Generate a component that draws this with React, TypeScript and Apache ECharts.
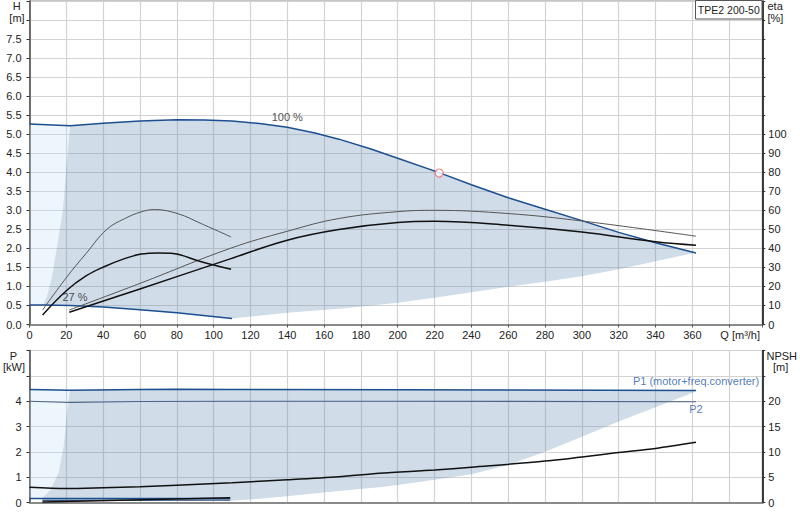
import { useEffect, useRef } from "react";
import * as echarts from "echarts";

type Pt = [number, number];

const FONT = "'Liberation Sans', Arial, sans-serif";
const TXT = "#222";
const BLUE = "#1c4f8f";
const Q_MAX = 398;

// head curves [Q m3/h, H m]
const H_100: Pt[] = [
  [0, 5.27], [22, 5.22], [40, 5.29], [60, 5.35], [80, 5.38], [95, 5.37], [110, 5.35],
  [125, 5.28], [140, 5.18], [155, 5.03], [168, 4.87], [185, 4.62], [200, 4.37],
  [222.5, 3.99], [240, 3.67], [260, 3.33], [280, 3.03], [300, 2.73], [320, 2.42],
  [340, 2.15], [362, 1.88],
];
const H_27: Pt[] = [[0, 0.51], [7.3, 0.51], [22, 0.5], [40, 0.46], [60, 0.39], [80, 0.31], [110, 0.16]];
const H_LOWER: Pt[] = [
  [362, 1.89], [340, 1.66], [320, 1.45], [300, 1.27], [280, 1.12], [260, 0.99],
  [220, 0.7], [200, 0.57], [170, 0.42], [140, 0.31], [110, 0.16],
];
const H_LEFT: Pt[] = [[7.3, 0.51], [9.4, 0.73], [12.2, 1.25], [15.2, 2.13], [18.1, 3.0], [20.3, 4.3], [22, 5.22]];
const DUTY: Pt = [222.5, 3.98];

// efficiency curves [Q, eta %]
const ETA_P_100: Pt[] = [
  [21.6, 7.6], [60, 21.6], [109, 40], [140, 49], [168, 55.7], [200, 59.3], [220, 60],
  [260, 58.3], [300, 54.4], [362, 46.4],
];
const ETA_T_100: Pt[] = [
  [21.6, 6.4], [60, 18.7], [109, 34.5], [140, 44.3], [168, 49.9], [200, 53.6], [220, 54.2],
  [260, 52.2], [300, 48.6], [340, 43.5], [362, 41.7],
];
const ETA_P_27: Pt[] = [
  [7.1, 7.6], [20.3, 25], [30.7, 37.3], [42, 50], [51.6, 55.6], [60.7, 59.2], [67.9, 60.4],
  [80.7, 58.2], [93.3, 53], [109.5, 46],
];
const ETA_T_27: Pt[] = [
  [7.1, 5], [20.3, 18], [30.7, 25.5], [40.2, 30.2], [51.6, 34.6], [60.7, 37], [69.7, 37.6],
  [77, 37.4], [93.3, 33], [109.5, 29],
];

// power [Q, kW] and NPSH [Q, m]
const P1_100: Pt[] = [[0, 4.46], [22, 4.43], [60, 4.46], [80, 4.47], [110, 4.46], [200, 4.45], [362, 4.42]];
const P2_100: Pt[] = [[0, 4.0], [22, 3.95], [60, 3.99], [110, 4.0], [200, 4.0], [362, 3.98]];
const P1_27: Pt[] = [[0, 0.17], [109, 0.17]];
const P2_27: Pt[] = [[7, 0.09], [109, 0.1]];
const P_LOWER: Pt[] = [
  [360, 4.32], [340, 3.76], [320, 3.2], [300, 2.6], [280, 2.01], [260, 1.49], [240, 1.12],
  [220, 0.9], [200, 0.7], [190, 0.61], [178, 0.53], [160, 0.4], [141, 0.26], [125, 0.16],
  [109, 0.08], [60, 0.09], [6.7, 0.1],
];
const P_LEFT: Pt[] = [[6.7, 0.17], [11.2, 0.5], [15.7, 1.16], [18.5, 2.21], [20.3, 3.53], [22, 4.43]];
const NPSH_100: Pt[] = [
  [0, 3.05], [20, 2.8], [40, 2.95], [60, 3.15], [80, 3.45], [110, 3.95], [140, 4.5], [168, 5.1],
  [190, 5.8], [220, 6.45], [240, 7.0], [280, 8.2], [320, 9.9], [340, 10.7], [362, 11.9],
];
const NPSH_27: Pt[] = [[7, 0.15], [109, 1.0]];

const TOP_DARK: Pt[] = [
  ...H_100.filter((p) => p[0] >= 22),
  ...H_LOWER,
  ...H_27.filter((p) => p[0] > 7.3 && p[0] < 110).reverse(),
  ...H_LEFT,
];
const TOP_LIGHT: Pt[] = [...H_100.filter((p) => p[0] <= 22), ...[...H_LEFT].reverse(), [0, 0.51]];
const BOT_DARK: Pt[] = [...P1_100.filter((p) => p[0] >= 22), ...P_LOWER, ...P_LEFT];
const BOT_LIGHT: Pt[] = [...P1_100.filter((p) => p[0] <= 22), ...[...P_LEFT].reverse(), [0, 0.17]];

const DARK_FILL = "rgba(98,138,178,0.3)";
const LIGHT_FILL = "rgba(198,225,248,0.3)";

function area(points: Pt[], fill: string, grid: number) {
  return {
    type: "custom" as const,
    xAxisIndex: grid,
    yAxisIndex: grid * 2,
    silent: true,
    z: 1,
    data: [points[0]],
    renderItem: (_p: any, api: any) => ({
      type: "polygon",
      shape: { points: points.map((p) => api.coord(p)) },
      style: { fill },
    }),
  };
}

function curve(data: Pt[], xi: number, yi: number, color: string, width: number, smooth = 0) {
  return {
    type: "line" as const,
    xAxisIndex: xi,
    yAxisIndex: yi,
    data,
    smooth,
    symbol: "none",
    silent: true,
    z: 3,
    lineStyle: { color, width },
  };
}

const label = (color = TXT) => ({ fontFamily: FONT, fontSize: 11, color });

function tag(value: Pt, text: string, xi: number, yi: number, position: string, color: string, offset = [0, 0], distance = 4) {
  return {
    type: "scatter" as const,
    xAxisIndex: xi,
    yAxisIndex: yi,
    symbolSize: 2,
    silent: true,
    z: 4,
    itemStyle: { color: "rgba(0,0,0,0)" },
    data: [{ value, label: { show: true, formatter: text, position, distance, offset, ...label(color) } }],
  };
}

function xAxis(grid: number) {
  return {
    type: "value" as const,
    gridIndex: grid,
    min: 0,
    max: Q_MAX,
    interval: 20,
    axisLine: { lineStyle: { color: "#8a8a8a", width: 2 } },
    axisTick: { show: grid === 0, length: 3, lineStyle: { color: "#555" } },
    axisLabel: {
      show: grid === 0,
      margin: 5,
      ...label(),
      formatter: (v: number) => (v === 380 ? "{q|Q [m³/h]}" : v <= 360 ? String(v) : ""),
      rich: { q: { ...label(), padding: [0, 0, 0, 22] } },
    },
    splitLine: { show: true, lineStyle: { color: "#d2d2d2", width: 1.2 } },
  };
}

function yAxis(grid: number, right: boolean, max: number, interval: number, maxLabel: number, fmt: (v: number) => string) {
  return {
    type: "value" as const,
    gridIndex: grid,
    position: right ? ("right" as const) : ("left" as const),
    min: 0,
    max,
    interval,
    axisLine: { show: true, lineStyle: { color: right ? "#000" : "#444", width: 1.5 } },
    axisTick: { show: true, length: 3, lineStyle: { color: "#333" } },
    axisLabel: { margin: right ? 6 : 8, ...label(), formatter: (v: number) => (v <= maxLabel + 1e-9 ? fmt(v) : "") },
    splitLine: { show: !right, lineStyle: { color: "#d2d2d2", width: 1.2 } },
  };
}

function text(x: number, y: number, t: string, align = "left", size = 11) {
  return {
    type: "text",
    x,
    y,
    silent: true,
    z: 10,
    style: { text: t, fontFamily: FONT, fontSize: size, fill: TXT, align, textAlign: align, verticalAlign: "middle", textVerticalAlign: "middle" },
  };
}

export default function App() {
  const ref = useRef<HTMLDivElement>(null);
  useEffect(() => {
    if (!ref.current) return;
    const chart = echarts.init(ref.current, undefined, { renderer: "svg" });
    chart.setOption({
      animation: false,
      grid: [
        { left: 29.5, right: 37.7, top: 1, height: 323.5, show: true, borderColor: "#8a8a8a", borderWidth: 1 },
        { left: 29.5, right: 37.7, top: 350.5, height: 152.2, show: true, borderColor: "#8a8a8a", borderWidth: 1 },
      ],
      xAxis: [xAxis(0), xAxis(1)],
      yAxis: [
        yAxis(0, false, 8.5, 0.5, 7.5, (v) => v.toFixed(1)),
        yAxis(0, true, 170, 10, 100, (v) => String(v)),
        yAxis(1, false, 6, 1, 4, (v) => String(v)),
        yAxis(1, true, 30, 5, 20, (v) => String(v)),
      ],
      series: [
        area(TOP_DARK, DARK_FILL, 0),
        area(TOP_LIGHT, LIGHT_FILL, 0),
        area(BOT_DARK, DARK_FILL, 1),
        area(BOT_LIGHT, LIGHT_FILL, 1),
        curve(H_100, 0, 0, BLUE, 1.5),
        curve(H_27, 0, 0, BLUE, 1.5),
        curve(ETA_P_100, 0, 1, "#555", 1, 0.4),
        curve(ETA_T_100, 0, 1, "#111", 1.5, 0.4),
        curve(ETA_P_27, 0, 1, "#555", 1, 0.4),
        curve(ETA_T_27, 0, 1, "#111", 1.5, 0.4),
        curve(P1_100, 1, 2, BLUE, 1.5),
        curve(P2_100, 1, 2, "#4a6587", 1.2),
        curve(P1_27, 1, 2, BLUE, 1.5),
        curve(P2_27, 1, 2, "#3c5a80", 1.2),
        curve(NPSH_100, 1, 3, "#111", 1.5, 0.3),
        curve(NPSH_27, 1, 3, "#111", 1.5),
        {
          type: "scatter",
          xAxisIndex: 0,
          yAxisIndex: 0,
          z: 5,
          silent: true,
          symbol: "circle",
          symbolSize: 8,
          itemStyle: { color: "#fff", borderColor: "#f06464", borderWidth: 1.2 },
          data: [DUTY],
        },
        tag(H_100[8], "100 %", 0, 0, "top", TXT),
        tag(H_27[2], "27 %", 0, 0, "top", TXT, [5, 0], 2),
        tag(P1_100[P1_100.length - 1], "P1 (motor+freq.converter)", 1, 2, "top", "#1f5aa6", [0, 0], 3),
        tag(P2_100[P2_100.length - 1], "P2", 1, 2, "bottom", "#1f5aa6", [0, 0], 1),
      ],
      graphic: [
        text(16.7, 5.5, "H", "center"),
        text(17, 17.5, "[m]", "center"),
        text(767.5, 5.5, "eta"),
        text(767.5, 17.5, "[%]"),
        text(13.5, 355.5, "P", "center"),
        text(14, 367, "[kW]", "center"),
        text(766.5, 355.5, "NPSH"),
        text(773, 367, "[m]"),
        {
          type: "rect",
          silent: true,
          z: 9,
          shape: { x: 695.5, y: 0.5, width: 66.5, height: 18.5 },
          style: { fill: "#fff", stroke: "#555", lineWidth: 1 },
        },
        text(728.8, 10, "TPE2 200-50", "center", 10.5),
      ],
    });
    return () => chart.dispose();
  }, []);
  return <div ref={ref} style={{ position: "fixed", left: 0, top: 0, width: 800, height: 520, background: "#fff" }} />;
}
